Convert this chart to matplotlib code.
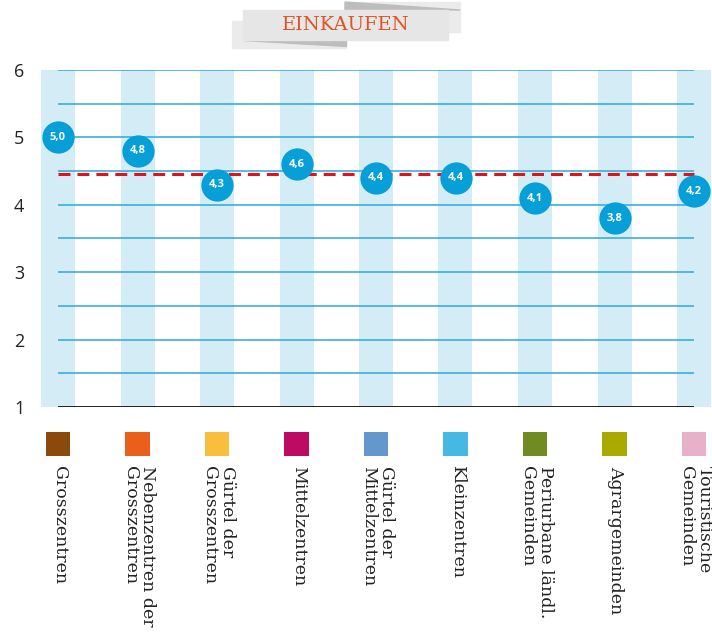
import numpy as np
import matplotlib
matplotlib.use("Agg")
from matplotlib import pyplot as plt
from matplotlib.patches import Polygon

# dati
categorie = ["Grosszentren", "Nebenzentren der\nGrosszentren", "Gürtel der\nGrosszentren",
             "Mittelzentren", "Gürtel der\nMittelzentren", "Kleinzentren",
             "Periurbane ländl.\nGemeinden", "Agrargemeinden", "Touristische\nGemeinden"]
valori = [5.0, 4.8, 4.3, 4.6, 4.4, 4.4, 4.1, 3.8, 4.2]
media = 4.45
colori_legenda = ["#8b4a0c", "#ea5f1a", "#f9be3b", "#bd0b63", "#6497cb",
                  "#45b8e3", "#6f8b22", "#aaa900", "#e8b1c9"]
titolo = "EINKAUFEN"
y_ticks = [1, 2, 3, 4, 5, 6]

W, H = 712, 637
fig = plt.figure(figsize=(W / 100, H / 100), dpi=100)

# assi principali in coordinate pixel -> frazioni
px0, px1 = 41, 712          # bordo sinistro/destro
py_top, py_bot = 70, 407    # y=6 e y=1
ax = fig.add_axes([px0 / W, 1 - py_bot / H, (px1 - px0) / W, (py_bot - py_top) / H])

passo = 79.5
c0 = 58
ax.set_xlim((px0 - c0) / passo, (px1 - c0) / passo)
ax.set_ylim(1, 6)

x = np.arange(len(valori))

# bande verticali
ax.bar(x, 5, bottom=1, width=34 / passo, color="#d4ecf6", zorder=0)

# griglia orizzontale
for yy in np.arange(1.5, 6.01, 0.5):
    ax.hlines(yy, 0, len(valori) - 1, color="#2aa9d9", lw=1.1, zorder=1)
ax.hlines(1, 0, len(valori) - 1, color="#111111", lw=1.3, zorder=2)

# media
ax.hlines(media, 0, len(valori) - 1, color="#dc1420", lw=2.2,
          linestyles=(0, (3.9, 2.3)), zorder=3)

# punti
ax.scatter(x, valori, s=540, color="#079fd8", zorder=4, clip_on=False, linewidths=0)
for xi, v in zip(x, valori):
    ax.text(xi, v, f"{v:.1f}".replace(".", ","), color="white", fontsize=8,
            fontweight="bold", ha="center", va="center", zorder=5,
            family="Open Sans")

for s in ax.spines.values():
    s.set_visible(False)
ax.set_xticks([])
ax.set_yticks(y_ticks)
ax.set_yticklabels([str(t) for t in y_ticks], fontsize=13, color="#222222", family="Open Sans")
ax.tick_params(axis="y", length=0, pad=12)

# legenda sotto l'asse
trans = ax.get_xaxis_transform()
alt = py_bot - py_top
ax.scatter(x, [-(444 - py_bot) / alt] * len(x), marker="s", s=300, color=colori_legenda,
           transform=trans, clip_on=False, linewidths=0)
for xi, lab in zip(x, categorie):
    ax.text(xi + 0.02, -(466 - py_bot) / alt, lab, transform=trans, rotation=-90,
            ha="center", va="top", multialignment="left", fontsize=12.5,
            color="#222222", family="DejaVu Serif", linespacing=1.05)

# banner del titolo
ov = fig.add_axes([0, 0, 1, 1], zorder=-1)
ov.set_xlim(0, W)
ov.set_ylim(H, 0)
ov.axis("off")
ov.add_patch(Polygon([(345, 2), (460, 2), (460, 32), (345, 32)], color="#ebebeb"))
ov.add_patch(Polygon([(345, 2), (460, 10), (345, 10)], color="#bdbdbd"))
ov.add_patch(Polygon([(232, 21), (346, 21), (346, 48), (232, 48)], color="#ebebeb"))
ov.add_patch(Polygon([(243, 40), (346, 40), (346, 46)], color="#bdbdbd"))
ov.add_patch(Polygon([(243, 10), (448, 10), (448, 40), (243, 40)], color="#e6e6e7"))
ov.text(346, 25, titolo, color="#e0521f", fontsize=14, ha="center", va="center",
        family="DejaVu Serif")

fig.savefig("out.png", dpi=100)
